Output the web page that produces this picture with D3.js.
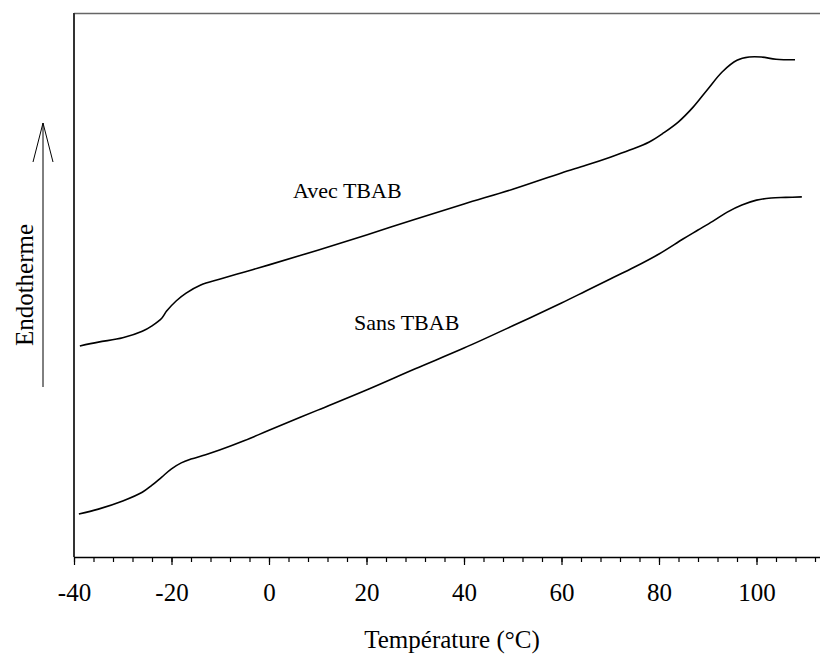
<!DOCTYPE html>
<html>
<head>
<meta charset="utf-8">
<script src="https://cdn.jsdelivr.net/npm/d3@7"></script>
<style>
  html, body { margin: 0; padding: 0; background: #fff; }
  svg { display: block; font-family: "Liberation Serif", "Times New Roman", serif; }
</style>
</head>
<body>
<svg id="chart" width="820" height="654"></svg>
<script>
// DSC thermograms (heat flow, arbitrary units) versus temperature
const tempAvec = [-38.8, -35, -30, -26, -24, -22, -21, -19, -17, -14, -10, -5, 0, 10, 20, 30, 40, 50, 60, 65, 70, 74, 78, 81, 84, 87, 90, 93, 96, 98.5, 101, 104, 107.9];
const flowAvec = [3.88, 3.95, 4.03, 4.15, 4.25, 4.39, 4.52, 4.71, 4.85, 5.00, 5.11, 5.24, 5.37, 5.64, 5.92, 6.21, 6.49, 6.76, 7.06, 7.20, 7.35, 7.48, 7.63, 7.80, 8.00, 8.27, 8.60, 8.92, 9.13, 9.19, 9.19, 9.15, 9.14];

const tempSans = [-39, -35, -30, -26, -24, -22, -20, -18, -16, -13, -10, -5, 0, 10, 20, 30, 40, 50, 60, 65, 70, 75, 80, 85, 88, 91, 94, 97, 100, 103, 106, 109.3];
const flowSans = [0.79, 0.88, 1.03, 1.19, 1.32, 1.47, 1.62, 1.73, 1.80, 1.88, 1.97, 2.14, 2.33, 2.70, 3.07, 3.46, 3.84, 4.25, 4.67, 4.89, 5.11, 5.33, 5.57, 5.85, 6.01, 6.17, 6.34, 6.47, 6.56, 6.60, 6.61, 6.62];

const majorTicks = [-40, -20, 0, 20, 40, 60, 80, 100];
const minorTicks = d3.range(-40, 113, 4);

const seriesLabels = ["Avec TBAB", "Sans TBAB"];
const xTitle = "Température (°C)";
const yTitle = "Endotherme";

(function draw() {
  const svg = d3.select("#chart");

  const plotL = 74, plotR = 820, plotT = 13, plotB = 557;
  const x = d3.scaleLinear().domain([-40, -40 + (plotR - plotL) / 4.875]).range([plotL, plotR]);
  const y = d3.scaleLinear().domain([0, 10]).range([plotB, plotT]);

  // frame: top border and left axis line
  svg.append("line")
    .attr("x1", plotL).attr("x2", plotR).attr("y1", plotT + 0.5).attr("y2", plotT + 0.5)
    .attr("stroke", "#666").attr("stroke-width", 1.6);
  svg.append("line")
    .attr("x1", plotL).attr("x2", plotL).attr("y1", plotT).attr("y2", plotB)
    .attr("stroke", "#333").attr("stroke-width", 2);

  // minor ticks
  svg.append("g")
    .attr("transform", `translate(0,${plotB})`)
    .call(d3.axisBottom(x).tickValues(minorTicks).tickSize(5).tickFormat(""))
    .call(g => g.select(".domain").remove())
    .call(g => g.selectAll("line").attr("stroke", "#000").attr("stroke-width", 1.2));

  // major ticks with labels
  const xAxis = svg.append("g")
    .attr("transform", `translate(0,${plotB})`)
    .call(d3.axisBottom(x).tickValues(majorTicks).tickSize(8).tickFormat(d => String(d)))
    .call(g => g.select(".domain").attr("stroke", "#000").attr("stroke-width", 1.5)
        .attr("d", `M${plotL},0.5H${plotR}`))
    .call(g => g.selectAll("line").attr("stroke", "#000").attr("stroke-width", 1.2));
  xAxis.selectAll("text")
    .attr("y", 44).attr("dy", null)
    .attr("fill", "#000")
    .style("font-family", "'Liberation Serif', serif")
    .style("font-size", "25px");

  // curves
  const line = d3.line().curve(d3.curveCatmullRom.alpha(0.5));
  const avec = tempAvec.map((t, i) => [x(t), y(flowAvec[i])]);
  const sans = tempSans.map((t, i) => [x(t), y(flowSans[i])]);

  svg.append("path").attr("d", line(avec))
    .attr("fill", "none").attr("stroke", "#000").attr("stroke-width", 1.6);
  svg.append("path").attr("d", line(sans))
    .attr("fill", "none").attr("stroke", "#000").attr("stroke-width", 1.6);

  // curve labels
  svg.append("text").attr("x", 293).attr("y", 198)
    .style("font-size", "22px").text(seriesLabels[0]);
  svg.append("text").attr("x", 354).attr("y", 330)
    .style("font-size", "22px").text(seriesLabels[1]);

  // axis titles
  svg.append("text").attr("x", 452).attr("y", 648)
    .attr("text-anchor", "middle").style("font-size", "25px").text(xTitle);
  svg.append("text")
    .attr("transform", "translate(33,285) rotate(-90)")
    .attr("text-anchor", "middle").style("font-size", "25px").text(yTitle);

  // endothermic direction arrow
  svg.append("line").attr("x1", 43).attr("x2", 43).attr("y1", 387).attr("y2", 123)
    .attr("stroke", "#000").attr("stroke-width", 1);
  svg.append("path").attr("d", "M33,162L43,123L53,162")
    .attr("fill", "none").attr("stroke", "#000").attr("stroke-width", 1);
})();
</script>
</body>
</html>
